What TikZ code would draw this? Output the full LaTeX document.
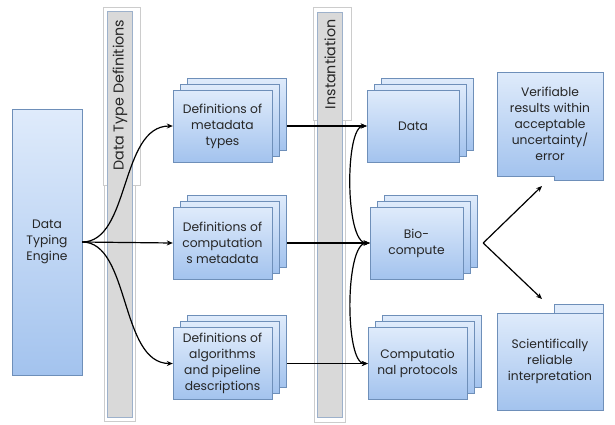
\documentclass[tikz,border=0pt]{standalone}
\usepackage{fontspec}
\setmainfont{Poppins}
\usetikzlibrary{arrows.meta,shadows}
\definecolor{boxtop}{HTML}{DFEBFB}
\definecolor{boxbot}{HTML}{A3C3EE}
\definecolor{boxline}{HTML}{6E8FB9}
\definecolor{barfill}{HTML}{D9D9D9}
\definecolor{barline}{HTML}{9DB1CB}
\definecolor{frameline}{HTML}{CCCCCC}
\definecolor{txt}{HTML}{262626}
\tikzset{
  blockbox/.style={draw=boxline,top color=boxtop,bottom color=boxbot,text=txt,
    align=center,inner sep=1pt,font=\fontsize{12.3}{16}\selectfont},
  stackbox/.style={blockbox,minimum height=72pt,
    copy shadow={shadow xshift=14pt,shadow yshift=12pt,draw=boxline,top color=boxtop,bottom color=boxbot},
    copy shadow={shadow xshift=7pt,shadow yshift=6pt,draw=boxline,top color=boxtop,bottom color=boxbot}},
  barlabel/.style={rotate=90,anchor=east,text=txt,font=\fontsize{14.3}{16}\selectfont},
  link/.style={->,line width=1.2pt},
}
\begin{document}
\begin{tikzpicture}[>={Stealth[length=6pt,width=5pt]},x=1pt,y=-1pt]
\useasboundingbox[fill=white] (0,0) rectangle (615,424);
% bars
\draw[frameline] (103,7) rectangle (140,185) (104,185) rectangle (135,421);
\draw[frameline] (313,7) rectangle (351,120) (314,120) rectangle (345,422);
\draw[barline,fill=barfill] (107,11) rectangle (132,417);
\draw[barline,fill=barfill] (317,12) rectangle (342,417);
\node[barlabel] (dtdlabel) at (120,16) {Data Type Definitions};
\node[barlabel] (instlabel) at (330,16) {Instantiation};
% engine
\node[blockbox,minimum width=70pt,minimum height=266pt] (engine) at (47,242) {Data\\Typing\\Engine};
% definitions
\node[stackbox,minimum width=99pt] (def1) at (222.5,126) {Definitions of\\metadata\\types};
\node[stackbox,minimum width=99pt] (def2) at (222.5,243) {Definitions of\\computation\\s metadata};
\node[stackbox,minimum width=99pt] (def3) at (222.5,363.5) {Definitions of\\algorithms\\and pipeline\\descriptions};
% instances
\node[stackbox,minimum width=92pt] (data) at (413,126) {Data};
\node[stackbox,minimum width=93pt] (bio) at (416.5,243) {Bio-\\compute};
\node[stackbox,minimum width=99pt] (comp) at (417.5,363.5) {Computatio\\nal protocols};
% outcomes
\node[blockbox,minimum width=106pt,minimum height=104pt] (verif) at (550,124) {Verifiable\\results within\\acceptable\\uncertainty/\\error};
\node[blockbox,minimum width=106pt,minimum height=97pt] (sci) at (550,361.5) {Scientifically\\reliable\\interpretation};
\fill[boxbot] ([xshift=-49pt,yshift=0.6pt]verif.south east) rectangle ([yshift=-4pt]verif.south east);
\draw[boxline] ([xshift=-49pt]verif.south east) -- ++(0,4) -- ++(49,0) -- (verif.south east);
\fill[boxtop] ([xshift=-49pt,yshift=-0.6pt]sci.north east) rectangle ([yshift=9pt]sci.north east);
\draw[boxline] ([xshift=-49pt]sci.north east) -- ++(0,-9) -- ++(49,0) -- (sci.north east);
% connectors
\draw[link] (engine.east) .. controls +(48,0) and +(-53,0) .. (def1.west);
\draw[link] (engine.east) -- (def2.west);
\draw[link] (engine.east) .. controls +(48,0) and +(-53,0) .. (def3.west);
\draw[link] ([xshift=15pt]def1.east) -- (data.west);
\draw[link] ([xshift=15pt]def2.east) -- (bio.west);
\draw[link] ([xshift=15pt]def3.east) -- (comp.west);
\draw[link,<->] (data.west) .. controls +(-22,0) and +(-25,0) .. (bio.west);
\draw[link,<->] (bio.west) .. controls +(-25,0) and +(-23,0) .. (comp.west);
\coordinate (fork) at ([xshift=20pt]bio.east);
\coordinate (uptip) at (542,186);
\coordinate (lowtip) at (542,299);
\draw[link] (fork) -- (uptip);
\draw[link] (fork) -- (lowtip);
\end{tikzpicture}
\end{document}
